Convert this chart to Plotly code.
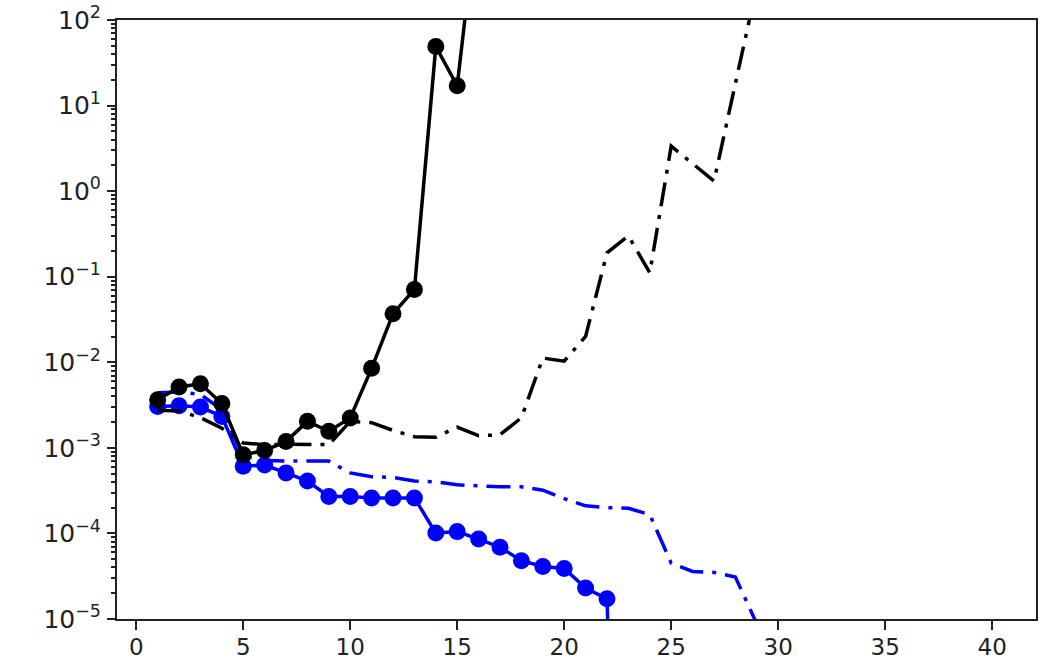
import plotly.graph_objects as go

# Iteration index for each series
x_black_solid = list(range(1, 17))
x_black_dashdot = list(range(1, 30))
x_blue_solid = list(range(1, 24))
x_blue_dashdot = list(range(1, 30))

# Error values (log scale)
black_solid = [3.66e-3, 5.15e-3, 5.6e-3, 3.3e-3, 8.3e-4, 9.3e-4, 1.19e-3, 2.04e-3,
               1.56e-3, 2.24e-3, 8.5e-3, 3.7e-2, 7.1e-2, 49.0, 17.0, 2.5e3]
black_dashdot = [2.75e-3, 2.7e-3, 2.25e-3, 1.7e-3, 1.14e-3, 1.09e-3, 1.1e-3, 1.1e-3,
                 1.09e-3, 2.04e-3, 1.97e-3, 1.6e-3, 1.35e-3, 1.33e-3, 1.75e-3, 1.39e-3,
                 1.42e-3, 2.25e-3, 1.12e-2, 1.03e-2, 2.01e-2, 0.19, 0.30, 0.111,
                 3.36, 2.1, 1.31, 18.0, 2.5e2]
blue_solid = [3.05e-3, 3.1e-3, 3.0e-3, 2.33e-3, 6.1e-4, 6.3e-4, 5.1e-4, 4.1e-4,
              2.7e-4, 2.7e-4, 2.6e-4, 2.6e-4, 2.6e-4, 1.01e-4, 1.05e-4, 8.6e-5,
              6.9e-5, 4.8e-5, 4.1e-5, 3.9e-5, 2.3e-5, 1.72e-5, 1e-12]
blue_dashdot = [4.4e-3, 4.5e-3, 4.2e-3, 2.8e-3, 8.0e-4, 7.1e-4, 7.0e-4, 7.0e-4,
                7.0e-4, 5.1e-4, 4.6e-4, 4.5e-4, 4.1e-4, 4.0e-4, 3.7e-4, 3.6e-4,
                3.5e-4, 3.5e-4, 3.2e-4, 2.55e-4, 2.1e-4, 2.0e-4, 1.97e-4, 1.66e-4,
                4.5e-5, 3.6e-5, 3.5e-5, 3.1e-5, 8.8e-6]

x_ticks = [0, 5, 10, 15, 20, 25, 30, 35, 40]
y_ticks = [1e-5, 1e-4, 1e-3, 1e-2, 1e-1, 1e0, 1e1, 1e2]
y_ticktext = ["10<sup>\u22125</sup>", "10<sup>\u22124</sup>", "10<sup>\u22123</sup>",
              "10<sup>\u22122</sup>", "10<sup>\u22121</sup>", "10<sup>0</sup>",
              "10<sup>1</sup>", "10<sup>2</sup>"]
y_minor = [m * 10.0 ** e for e in range(-5, 2) for m in range(2, 10)]

BLACK = "#000000"
BLUE = "#0000ff"
DASHDOT = "24px,9px,4px,9px"
LW = 3.5
MS = 17

fig = go.Figure()
fig.add_trace(go.Scatter(x=x_blue_solid, y=blue_solid, mode="lines+markers",
                         line=dict(color=BLUE, width=LW),
                         marker=dict(color=BLUE, size=MS, symbol="circle")))
fig.add_trace(go.Scatter(x=x_blue_dashdot, y=blue_dashdot, mode="lines",
                         line=dict(color=BLUE, width=LW, dash=DASHDOT)))
fig.add_trace(go.Scatter(x=x_black_solid, y=black_solid, mode="lines+markers",
                         line=dict(color=BLACK, width=LW),
                         marker=dict(color=BLACK, size=MS, symbol="circle")))
fig.add_trace(go.Scatter(x=x_black_dashdot, y=black_dashdot, mode="lines",
                         line=dict(color=BLACK, width=LW, dash=DASHDOT)))

x_font = dict(family="DejaVu Sans", size=23, color="#222222")
y_font = dict(family="DejaVu Sans", size=25, color="#222222")

fig.update_layout(
    width=1041, height=662,
    margin=dict(l=117, r=5, t=20, b=43),
    paper_bgcolor="white", plot_bgcolor="white",
    showlegend=False,
    xaxis=dict(range=[-0.9, 42.05], tickmode="array", tickvals=x_ticks,
               ticks="outside", ticklen=9, tickwidth=2, tickcolor="#222222",
               showline=True, mirror=True, linecolor="#222222", linewidth=2,
               showgrid=False, zeroline=False, tickfont=x_font,
               ticklabelstandoff=-3, automargin=False),
    yaxis=dict(type="log", range=[-5, 2], tickmode="array", tickvals=y_ticks,
               ticktext=y_ticktext, ticks="outside", ticklen=8, tickwidth=2,
               tickcolor="#222222",
               minor=dict(tickmode="array", tickvals=y_minor, ticks="outside",
                          ticklen=4, tickwidth=1.5, tickcolor="#222222",
                          showgrid=False),
               showline=True, mirror=True, linecolor="#222222", linewidth=2,
               showgrid=False, zeroline=False, tickfont=y_font,
               ticklabelstandoff=1, automargin=False),
)

fig.write_html("out.html")
